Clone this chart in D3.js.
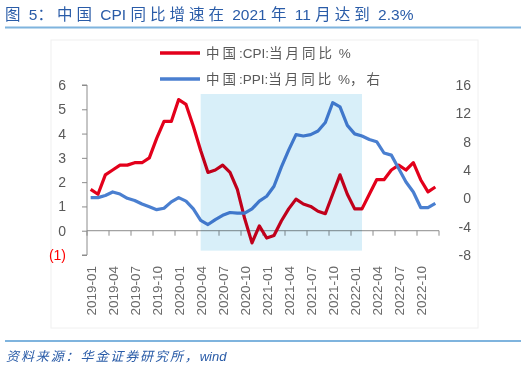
<!DOCTYPE html>
<html><head><meta charset="utf-8">
<script src="https://cdn.jsdelivr.net/npm/d3@7"></script>
<style>
html,body{margin:0;padding:0;background:#fff;}
svg{display:block;}
</style></head>
<body><svg id="c" width="527" height="370"></svg>
<script>
const months = [];
for (let y = 2019; y <= 2022; y++) for (let m = 1; m <= 12; m++) months.push(y + "-" + String(m).padStart(2, "0"));
const cpi = [1.7,1.5,2.3,2.5,2.7,2.7,2.8,2.8,3.0,3.8,4.5,4.5,
             5.4,5.2,4.3,3.3,2.4,2.5,2.7,2.4,1.7,0.5,-0.5,0.2,
             -0.3,-0.2,0.4,0.9,1.3,1.1,1.0,0.8,0.7,1.5,2.3,1.5,
             0.9,0.9,1.5,2.1,2.1,2.5,2.7,2.5,2.8,2.1,1.6,1.8];
const ppi = [0.1,0.1,0.4,0.9,0.6,0.0,-0.3,-0.8,-1.2,-1.6,-1.4,-0.5,
             0.1,-0.4,-1.5,-3.1,-3.7,-3.0,-2.4,-2.0,-2.1,-2.1,-1.5,-0.4,
             0.3,1.7,4.4,6.8,9.0,8.8,9.0,9.5,10.7,13.5,12.9,10.3,
             9.1,8.8,8.3,8.0,6.4,6.1,4.2,2.3,0.9,-1.3,-1.3,-0.7];
const leftTicks = [-1,0,1,2,3,4,5,6];
const rightTicks = [-8,-4,0,4,8,12,16];
const xTickLabels = months.filter((d,i) => i % 3 === 0 && i < 46);
const shadeRange = ["2020-04", "2022-02"];
const shadeY = [5.63, -0.82];
const title = "图 5：中国 CPI 同比增速在 2021 年 11 月达到 2.3%";
const source = "资料来源：华金证券研究所，wind";
const legendNames = ["中国:CPI:当月同比 %", "中国:PPI:当月同比 %，右"];

const svg = d3.select("#c");
const FONT = "'Liberation Sans', Arial, 'Noto Sans CJK SC', sans-serif";
const CJK = "'Noto Sans CJK SC', 'Liberation Sans', sans-serif";
const L = 87, R = 439, T = 85, B = 255;
const x = d3.scaleBand().domain(months).range([L, R]);
const yL = d3.scaleLinear().domain([-1, 6]).range([B, T]);
const yR = d3.scaleLinear().domain([-8, 16]).range([B, T]);
const cx = d => x(d) + x.bandwidth() / 2;
const red = "#e3001b", blue = "#4a7fd0", gray = "#595959", axisC = "#8c8c8c";

// mixed text: CJK runs spaced, Latin runs in Arial-like font
function mixed(sel, str, spacing) {
  const runs = str.match(/[\u3000-\u9fff\uff00-\uffef]+|[^\u3000-\u9fff\uff00-\uffef]+/g);
  runs.forEach(r => {
    const isCJK = /[\u3000-\u9fff\uff00-\uffef]/.test(r);
    sel.append("tspan").attr("font-family", isCJK ? CJK : FONT)
      .attr("letter-spacing", isCJK ? spacing : 0).text(r);
  });
  return sel;
}

// title and rules
mixed(svg.append("text").attr("x", 5).attr("y", 20).attr("fill", "#2a5ca8")
  .attr("font-size", 15.5).attr("xml:space", "preserve"), title, 4.0);
svg.append("line").attr("x1", 5).attr("x2", 521).attr("y1", 27.5).attr("y2", 27.5)
  .attr("stroke", "#7fb4de").attr("stroke-width", 2);
svg.append("line").attr("x1", 5).attr("x2", 521).attr("y1", 341).attr("y2", 341)
  .attr("stroke", "#7fb4de").attr("stroke-width", 2);
mixed(svg.append("text").attr("x", 6).attr("y", 361).attr("fill", "#2a5ca8")
  .attr("font-size", 13).attr("font-style", "italic"), source, 1.9);

// chart border
svg.append("rect").attr("x", 51).attr("y", 40).attr("width", 427).attr("height", 288)
  .attr("fill", "none").attr("stroke", "#f0f0f0").attr("stroke-width", 1);

// left axis
const gl = svg.append("g").attr("transform", `translate(${L},0)`)
  .call(d3.axisLeft(yL).tickValues(leftTicks).tickSize(5).tickPadding(16).tickFormat(d => d < 0 ? "(" + Math.abs(d) + ")" : d));
gl.select(".domain").attr("stroke", axisC).attr("d", `M-5,${yL(-1)}H0V${yL(6)}H-5`);
gl.selectAll(".tick line").attr("stroke", axisC);
gl.selectAll(".tick text").attr("font-family", FONT).attr("font-size", 14)
  .attr("fill", d => d < 0 ? "#ff0000" : gray);

// right axis (labels only)
const gr = svg.append("g").attr("transform", `translate(${R + 32},0)`)
  .call(d3.axisLeft(yR).tickValues(rightTicks).tickSize(0).tickPadding(0).tickFormat(d => String(d)));
gr.select(".domain").remove();
gr.selectAll(".tick text").attr("font-family", FONT).attr("font-size", 14).attr("fill", gray);

// x axis at zero
const xTickPos = d3.range(0, months.length + 1, 3).map(i => L + i * x.step());
const gx = svg.append("g");
gx.append("line").attr("x1", L).attr("x2", R).attr("y1", yL(0)).attr("y2", yL(0)).attr("stroke", axisC);
gx.selectAll("line.t").data(xTickPos).join("line").attr("class", "t")
  .attr("x1", d => d).attr("x2", d => d).attr("y1", yL(0)).attr("y2", yL(0) + 5).attr("stroke", axisC);
gx.selectAll("text").data(xTickLabels).join("text")
  .attr("transform", d => `translate(${cx(d) + 5},${B + 11}) rotate(-90)`)
  .attr("text-anchor", "end").attr("font-family", FONT).attr("font-size", 13.5)
  .attr("fill", "#6a6a6a").text(d => d);

// lines
const lineL = d3.line().x((d, i) => cx(months[i])).y(d => yL(d));
const lineR = d3.line().x((d, i) => cx(months[i])).y(d => yR(d));
svg.append("path").datum(cpi).attr("d", lineL).attr("fill", "none")
  .attr("stroke", red).attr("stroke-width", 3.2).attr("stroke-linejoin", "round");
svg.append("path").datum(ppi).attr("d", lineR).attr("fill", "none")
  .attr("stroke", blue).attr("stroke-width", 3.2).attr("stroke-linejoin", "round");

// shade (multiply overlay)
svg.append("rect").attr("x", cx(shadeRange[0])).attr("y", yL(shadeY[0]))
  .attr("width", cx(shadeRange[1]) - cx(shadeRange[0])).attr("height", yL(shadeY[1]) - yL(shadeY[0]))
  .attr("fill", "#d8eff9").style("mix-blend-mode", "multiply");

// legend
const lg = svg.append("g");
[[red, 53], [blue, 79]].forEach(([c, yy], i) => {
  lg.append("line").attr("x1", 160).attr("x2", 200).attr("y1", yy).attr("y2", yy)
    .attr("stroke", c).attr("stroke-width", 3.5);
  mixed(lg.append("text").attr("x", 206).attr("y", yy + 5).attr("fill", gray)
    .attr("font-size", 13.5), legendNames[i], 3);
});
</script></body></html>
